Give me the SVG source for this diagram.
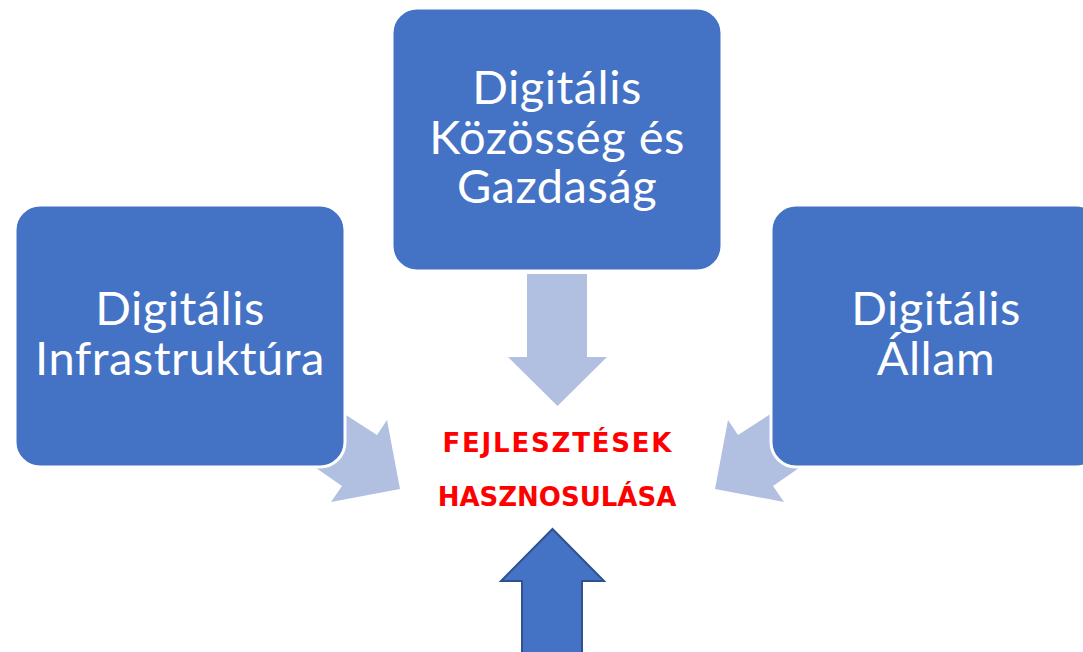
<svg xmlns="http://www.w3.org/2000/svg" width="1083" height="652" viewBox="0 0 1083 652">
<style>
.box{fill:#4472C4;stroke:#FFFFFF;stroke-width:3}
.lt{fill:#B1BFE0}
.t{fill:#FFFFFF;font-family:Lato,"Open Sans","DejaVu Sans",sans-serif;font-size:47px;letter-spacing:0.5px;text-anchor:middle}
.r{fill:#FF0000;font-family:"DejaVu Sans","Open Sans",sans-serif;font-weight:bold;font-size:26px;text-anchor:middle}
</style>
<rect width="1083" height="652" fill="#FFFFFF"/>
<g id="connectors">
<polygon class="lt" points="527,274 587,274 587,357 607,357 557.5,406 508,357 527,357"/>
<polygon class="lt" points="400,489 387,420 377,435 332,406 306,461 342,486 331,502"/>
<polygon class="lt" points="715,489 728,420 738,435 783,406 809,461 773,486 784,502"/>
<polygon points="552.5,529 604,581 582,581 582,660 522,660 522,581 501,581" fill="#4472C4" stroke="#2F528F" stroke-width="2"/>
</g>
<g id="node-infra">
<rect class="box" x="15" y="205" width="330" height="262" rx="25"/>
<text class="t" x="180" y="325">Digitális</text>
<text class="t" x="180" y="375">Infrastruktúra</text>
</g>
<g id="node-kozosseg">
<rect class="box" x="392" y="8" width="330" height="263" rx="25"/>
<text class="t" x="557" y="104">Digitális</text>
<text class="t" x="557" y="154">Közösség és</text>
<text class="t" x="557" y="203">Gazdaság</text>
</g>
<g id="node-allam">
<rect class="box" x="771" y="205" width="330" height="262" rx="25"/>
<text class="t" x="936" y="325">Digitális</text>
<text class="t" x="936" y="375">Állam</text>
</g>
<g id="center-text">
<text class="r" x="557" y="452" textLength="229">FEJLESZTÉSEK</text>
<text class="r" x="557" y="506">HASZNOSULÁSA</text>
</g>
</svg>
